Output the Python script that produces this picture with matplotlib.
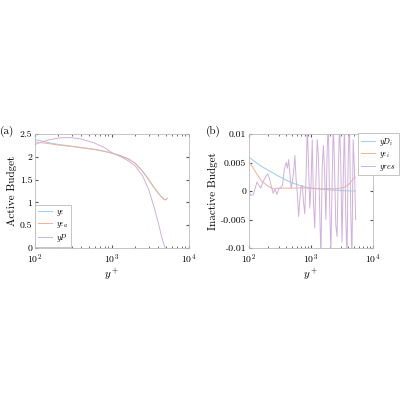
import numpy as np
import matplotlib
matplotlib.use('Agg')
import matplotlib.pyplot as plt

plt.rcParams['font.family'] = 'serif'
plt.rcParams['font.serif'] = ['cmr10', 'DejaVu Serif']
plt.rcParams['mathtext.fontset'] = 'cm'
plt.rcParams['axes.formatter.use_mathtext'] = True

# --- panel (a): active budget ---
yp_a = [100, 120, 150, 200, 250, 300, 400, 500, 600, 800, 1000, 1300, 1600, 2000,
        2500, 3000, 3500, 4000, 4400, 4800, 5000, 5200]
eps = [2.38, 2.35, 2.31, 2.27, 2.25, 2.23, 2.2, 2.18, 2.16, 2.12, 2.08, 2.02, 1.96, 1.86,
       1.68, 1.5, 1.33, 1.2, 1.12, 1.06, 1.06, 1.09]
eps_a = [2.33, 2.31, 2.29, 2.26, 2.24, 2.23, 2.2, 2.18, 2.16, 2.12, 2.08, 2.02, 1.96, 1.86,
         1.68, 1.5, 1.33, 1.2, 1.12, 1.06, 1.06, 1.09]
prod = [2.27, 2.32, 2.37, 2.41, 2.42, 2.42, 2.39, 2.34, 2.3, 2.2, 2.09, 2.0, 1.92, 1.8,
        1.58, 1.28, 0.91, 0.55, 0.25, 0.04, -0.02, -0.1]

# --- panel (b): inactive budget ---
yp_b = [100, 130, 160, 200, 250, 300, 400, 500, 650, 800, 1000, 1300, 1500, 1800, 2000,
        2500, 3000, 3500, 4000, 4500, 5000, 5200]
D_i = [0.0059, 0.0050, 0.0043, 0.0037, 0.0031, 0.0026, 0.0019, 0.0014, 0.0010, 0.0007,
       0.0005, 0.0004, 0.0003, 0.00025, 0.0002, 0.00012, 0.00008, 0.00005, 0.00003,
       0.00001, 0.0, 0.0]
eps_i = [0.0052, 0.0032, 0.0017, 0.0009, 0.00035, 0.0005, 0.0005, 0.0005, 0.00055, 0.0005,
         0.0005, 0.0004, 0.00035, 0.00045, 0.0004, 0.0004, 0.0005, 0.0007, 0.0011,
         0.0017, 0.0023, 0.0024]
res_logy = [2.00, 2.03, 2.07, 2.10, 2.13, 2.16, 2.19, 2.22, 2.26, 2.30, 2.33, 2.36, 2.39,
            2.42, 2.45, 2.48, 2.51, 2.54, 2.57, 2.60, 2.62, 2.64, 2.66, 2.68, 2.70, 2.72,
            2.74, 2.76, 2.78, 2.80, 2.82, 2.84, 2.86, 2.88, 2.90, 2.92, 2.94, 2.96, 2.98,
            3.00, 3.02, 3.04, 3.06, 3.08, 3.10, 3.12, 3.14, 3.16, 3.18, 3.20, 3.22, 3.24,
            3.26, 3.28, 3.30, 3.32, 3.34, 3.36, 3.38, 3.40, 3.42, 3.44, 3.46, 3.48, 3.50,
            3.52, 3.54, 3.56, 3.58, 3.60, 3.62, 3.64, 3.66, 3.68, 3.70, 3.72]
res = [0.0, -0.8, -0.6, 0.5, 1.6, 1.0, 0.5, 1.5, 2.3, 3.0, 2.2, 0.8, -0.4,
       0.3, -0.6, 0.4, 0.6, 1.0, 3.8, 5.0, 4.0, 5.5, 3.0, 0.5, 1.6, 3.5,
       6.2, 2.0, -0.5, -4.5, -1.5, 0.8, 1.0, -2.0, -4.0, 2.5, 11.0, 5.0, -3.0,
       1.0, 9.0, -2.0, -6.5, 2.0, 9.0, 6.0, -3.0, -12.0, 4.0, 8.0, 3.0, -5.0,
       7.0, 12.0, -2.0, -11.0, 1.0, 12.0, 4.0, -6.0, -8.0, 3.0, 12.0, 5.0, -9.0,
       2.0, 12.0, -4.0, -12.0, 6.0, 12.0, -3.0, -12.0, 9.0, 4.0, -5.0]

c_blue = '#a6d0ec'
c_orange = '#f0b098'
c_purple = '#d2b0dc'

fig = plt.figure(figsize=(4, 4), dpi=100)


def style_axes(ax):
    ax.set_xscale('log')
    ax.set_xlim(100, 1e4)
    ax.tick_params(which='both', direction='in', top=True, right=True, labelsize=7,
                   color='#555555', pad=2)
    ax.tick_params(which='major', length=2.5)
    ax.tick_params(which='minor', length=1.3)
    ax.tick_params(axis='x', pad=3)
    for s in ax.spines.values():
        s.set_color('#bbbbbb')
        s.set_linewidth(0.6)
    ax.set_xlabel(r'$y^+$', fontsize=8, labelpad=1)


def style_legend(leg):
    leg.get_frame().set_edgecolor('#bbbbbb')
    leg.get_frame().set_linewidth(0.6)


ax1 = fig.add_axes([35 / 400, 152 / 400, 154 / 400, 114 / 400])
ax1.plot(yp_a, eps, color=c_blue, lw=0.8, label=r'$y\epsilon$')
ax1.plot(yp_a, eps_a, color=c_orange, lw=0.7, label=r'$y\epsilon_a$')
ax1.plot(yp_a, prod, color=c_purple, lw=0.7, label=r'$yP$')
style_axes(ax1)
ax1.set_ylim(0, 2.5)
ax1.set_yticks([0, 0.5, 1, 1.5, 2, 2.5])
ax1.set_yticklabels(['0', '0.5', '1', '1.5', '2', '2.5'])
ax1.set_ylabel('Active Budget', fontsize=8, labelpad=2)
leg = ax1.legend(loc='lower left', bbox_to_anchor=(35 / 400, 1 - 247 / 400),
                 bbox_transform=fig.transFigure, fontsize=5.8, handlelength=1.8,
                 borderpad=0.35, labelspacing=0.25, handletextpad=0.5,
                 fancybox=False, borderaxespad=0.0, framealpha=1)
style_legend(leg)
fig.text(0 / 400, 1 - 131 / 400, '(a)', fontsize=8, va='center', ha='left')

ax2 = fig.add_axes([249 / 400, 152 / 400, 124 / 400, 114 / 400])
ax2.plot(yp_b, D_i, color=c_blue, lw=0.8, label=r'$yD_i$')
ax2.plot(yp_b, eps_i, color=c_orange, lw=0.7, label=r'$y\epsilon_i$')
ax2.plot(10 ** np.array(res_logy), np.array(res) * 1e-3, color=c_purple, lw=0.7,
         label=r'$yres$')
style_axes(ax2)
ax2.set_ylim(-0.01, 0.01)
ax2.set_yticks([-0.01, -0.005, 0, 0.005, 0.01])
ax2.set_yticklabels(['-0.01', '-0.005', '0', '0.005', '0.01'])
ax2.set_ylabel('Inactive Budget', fontsize=8, labelpad=2)
leg2 = ax2.legend(loc='upper left', bbox_to_anchor=(358 / 400, 1 - 133 / 400),
                  bbox_transform=fig.transFigure, fontsize=5.8, handlelength=1.8,
                  borderpad=0.35, labelspacing=0.25, handletextpad=0.5,
                  fancybox=False, borderaxespad=0.0, framealpha=1)
style_legend(leg2)
fig.text(206 / 400, 1 - 131 / 400, '(b)', fontsize=8, va='center', ha='left')

fig.savefig('out.png', dpi=100)
